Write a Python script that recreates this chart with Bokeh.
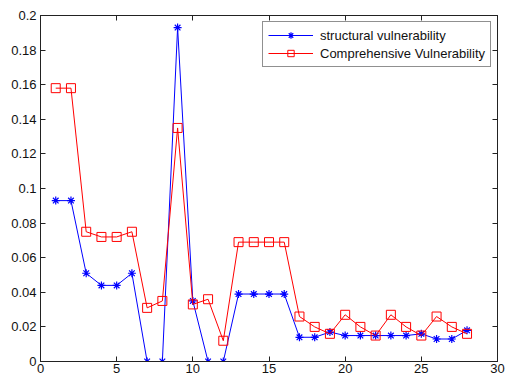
from bokeh.plotting import figure
from bokeh.models import FixedTicker, LinearAxis, Legend, LegendItem, Range1d
from bokeh.embed import file_html
from bokeh.resources import INLINE

x_idx = list(range(1, 29))
structural = [0.093, 0.093, 0.051, 0.044, 0.044, 0.051, 0.0, 0.0, 0.193, 0.035,
              0.0, 0.0, 0.039, 0.039, 0.039, 0.039, 0.014, 0.014, 0.017, 0.015,
              0.015, 0.015, 0.015, 0.015, 0.016, 0.013, 0.013, 0.018]
comprehensive = [0.158, 0.158, 0.075, 0.072, 0.072, 0.075, 0.031, 0.035, 0.135, 0.033,
                 0.036, 0.012, 0.069, 0.069, 0.069, 0.069, 0.026, 0.020, 0.016, 0.027,
                 0.020, 0.015, 0.027, 0.020, 0.015, 0.026, 0.020, 0.016]
x_ticks = [0, 5, 10, 15, 20, 25, 30]
x_tick_labels = ["0", "5", "10", "15", "20", "25", "30"]
y_ticks = [0, 0.02, 0.04, 0.06, 0.08, 0.1, 0.12, 0.14, 0.16, 0.18, 0.2]
y_tick_labels = ["0", "0.02", "0.04", "0.06", "0.08", "0.1", "0.12", "0.14", "0.16", "0.18", "0.2"]
series_names = ["structural vulnerability", "Comprehensive Vulnerability"]

FONT = "Liberation Sans"

p = figure(width=505, height=378, output_backend="svg", toolbar_location=None,
           x_range=Range1d(0, 30), y_range=Range1d(0, 0.2),
           min_border_left=40, min_border_top=15, min_border_right=8, min_border_bottom=17)
p.background_fill_color = "white"
p.border_fill_color = "white"
p.xgrid.visible = False
p.ygrid.visible = False
p.outline_line_color = "#222222"

for ax, ticks, labels in ((p.xaxis[0], x_ticks, x_tick_labels), (p.yaxis[0], y_ticks, y_tick_labels)):
    ax.ticker = FixedTicker(ticks=ticks)
    ax.major_label_overrides = {t: l for t, l in zip(ticks, labels)}
    ax.major_tick_in = 5
    ax.major_tick_out = 0
    ax.minor_tick_in = 0
    ax.minor_tick_out = 0
    ax.axis_line_color = "#222222"
    ax.major_tick_line_color = "#222222"
    ax.major_label_text_font = FONT
    ax.major_label_text_font_size = "13px"
    ax.major_label_text_color = "#111111"
p.xaxis[0].major_label_standoff = 2
p.yaxis[0].major_label_standoff = 4

top_ax = LinearAxis(ticker=FixedTicker(ticks=x_ticks), major_tick_in=5, major_tick_out=0,
                    minor_tick_in=0, minor_tick_out=0,
                    major_label_overrides={t: "" for t in x_ticks},
                    major_label_standoff=0, axis_line_color="#222222", major_tick_line_color="#222222")
right_ax = LinearAxis(ticker=FixedTicker(ticks=y_ticks), major_tick_in=5, major_tick_out=0,
                      minor_tick_in=0, minor_tick_out=0,
                      major_label_overrides={t: "" for t in y_ticks},
                      major_label_standoff=0, axis_line_color="#222222", major_tick_line_color="#222222")
p.add_layout(top_ax, "above")
p.add_layout(right_ax, "right")

l1 = p.line(x_idx, structural, line_color="#0000ff", line_width=1)
m1 = p.scatter(x_idx, structural, marker="asterisk", size=8, line_color="#0000ff", line_width=1.2)
l2 = p.line(x_idx, comprehensive, line_color="#ff0000", line_width=1)
m2 = p.scatter(x_idx, comprehensive, marker="square", size=9, line_color="#ff0000",
               fill_color=None, line_width=1)

legend = Legend(items=[LegendItem(label=series_names[0], renderers=[l1, m1]),
                       LegendItem(label=series_names[1], renderers=[l2, m2])],
                location="top_right", margin=6, padding=5, spacing=2,
                glyph_width=45, glyph_height=16, label_height=16, label_standoff=7,
                label_text_font=FONT, label_text_font_size="13px", label_text_color="#111111",
                border_line_color="#222222", border_line_width=1, background_fill_color="white",
                background_fill_alpha=1.0)
p.add_layout(legend, "center")

open("out.html", "w").write(file_html(p, INLINE))
